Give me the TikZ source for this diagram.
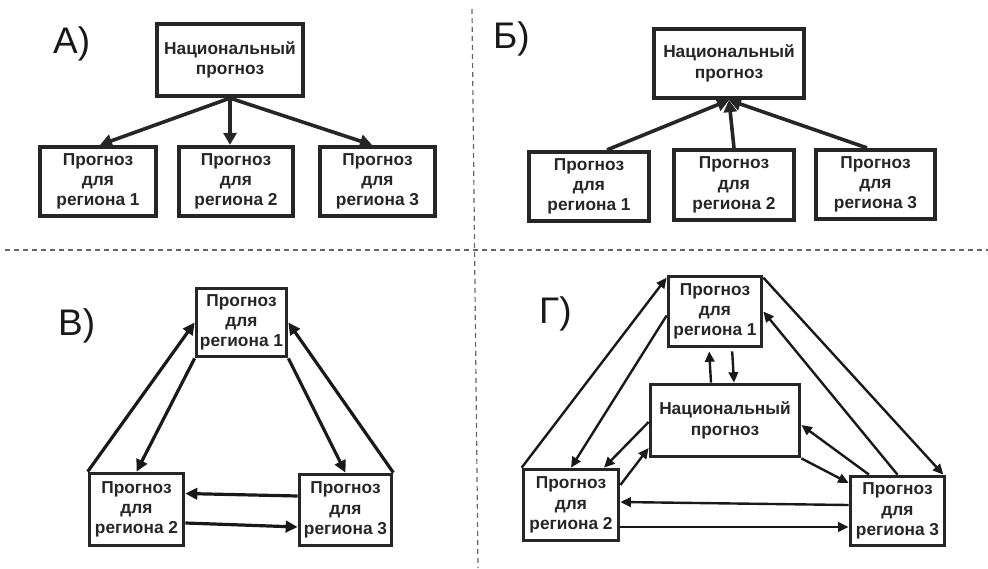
\documentclass[tikz,border=0pt]{standalone}
\usepackage{fontspec}
\setmainfont{Liberation Sans}
\usetikzlibrary{arrows.meta}
\begin{document}
\begin{tikzpicture}[x=1pt,y=-1pt,
  box/.style={draw=black!85, line width=4.2pt, fill=white, text=black!85,
    font=\bfseries\fontsize{17.3}{20.3}\selectfont, align=center, inner sep=0pt},
  thinbox/.style={box, line width=3.7pt},
  panel/.style={text=black!90, font=\fontsize{37}{40}\selectfont, anchor=base west, inner sep=0pt},
  arA/.style={draw=black!85, line width=3.6pt, -{Triangle[length=12pt,width=13pt]}},
  arB/.style={draw=black!90, line width=3.2pt, -{Triangle[length=12pt,width=11.5pt]}},
  arC/.style={draw=black!90, line width=2.4pt, -{Triangle[length=10.5pt,width=9.5pt]}},
  divider/.style={draw=black!60, line width=1.2pt, dash pattern=on 5pt off 4pt}
]
\useasboundingbox (0,0) rectangle (988,568);

% dividing lines between the four schemes
\coordinate (hl) at (5,250);
\coordinate (hr) at (988,250);
\coordinate (vt) at (472,9);
\coordinate (vb) at (478,568);
\draw[divider] (hl) -- (hr);
\draw[divider] (vt) -- (vb);

% ---------- A) top-down ----------
\node[panel] (la) at (53,53) {А)};
\node[box, minimum width=146pt, minimum height=72pt] (an) at (230,60) {Национальный\\прогноз};
\node[box, minimum width=116pt, minimum height=69pt] (a1) at (98,181.5) {Прогноз\\для\\региона 1};
\node[box, minimum width=114pt, minimum height=69pt] (a2) at (236,181.5) {Прогноз\\для\\региона 2};
\node[box, minimum width=115pt, minimum height=69pt] (a3) at (377.5,181.5) {Прогноз\\для\\региона 3};
\draw[arA] (an.south) -- ([xshift=2pt]a1.north);
\draw[arA] (an.south) -- (an.south |- a2.north);
\draw[arA] (an.south) -- ([xshift=-5.5pt]a3.north);

% ---------- Б) bottom-up ----------
\node[panel] (lb) at (493,48) {Б)};
\node[box, minimum width=150pt, minimum height=69pt] (bn) at (729,63.5) {Национальный\\прогноз};
\node[box, minimum width=120pt, minimum height=69pt] (b1) at (589,186.5) {Прогноз\\для\\региона 1};
\node[box, minimum width=120pt, minimum height=70pt] (b2) at (734,185) {Прогноз\\для\\региона 2};
\node[box, minimum width=119pt, minimum height=69pt] (b3) at (875.5,184.5) {Прогноз\\для\\региона 3};
\draw[arA] ([xshift=18pt]b1.north) -- (bn.south);
\draw[arA] (b2.north) -- (bn.south);
\draw[arA] ([xshift=-8.5pt]b3.north) -- (bn.south);

% ---------- В) regions only ----------
\node[panel] (lv) at (58,335) {В)};
\node[thinbox, minimum width=90pt, minimum height=68pt] (v1) at (241.5,322.5) {Прогноз\\для\\региона 1};
\node[thinbox, minimum width=94pt, minimum height=72pt] (v2) at (136.5,509.5) {Прогноз\\для\\региона 2};
\node[thinbox, minimum width=92pt, minimum height=71pt] (v3) at (345.5,510) {Прогноз\\для\\региона 3};
\draw[arB] (v2.north west) -- (v1.west);
\draw[arB] (v1.south west) -- (v2.north);
\draw[arB] (v1.south east) -- (v3.north);
\draw[arB] (v3.north east) -- (v1.east);
\draw[arB] ([yshift=14pt]v3.west) -- ([yshift=16pt]v2.east);
\draw[arB] ([yshift=-13.5pt]v2.east) -- ([yshift=-17pt]v3.west);

% ---------- Г) regions and the national forecast ----------
\node[panel] (lg) at (539,323) {Г)};
\node[thinbox, minimum width=93pt, minimum height=70pt] (g1) at (715,311.5) {Прогноз\\для\\региона 1};
\node[thinbox, minimum width=149pt, minimum height=72pt] (gn) at (725,420.5) {Национальный\\прогноз};
\node[thinbox, minimum width=95pt, minimum height=71pt] (g2) at (571,505) {Прогноз\\для\\региона 2};
\node[thinbox, minimum width=94pt, minimum height=69pt] (g3) at (897.5,511) {Прогноз\\для\\региона 3};
\draw[arC] (g2.north west) -- ([yshift=-3pt]g1.north west);
\draw[arC] ([yshift=-4pt]g1.west) -- (g2.north);
\draw[arC] ([yshift=-3pt]g1.north east) -- ([xshift=-3pt]g3.north east);
\draw[arC] (g3.north) -- (g1.east);
\draw[arC, shorten >=3pt] ([xshift=-14pt]gn.north) -- ([xshift=-6pt]g1.south);
\draw[arC, shorten <=3pt] ([xshift=17pt]g1.south) -- ([xshift=9pt]gn.north);
\draw[arC] ([yshift=-1.5pt]gn.west) -- ([xshift=33pt]g2.north);
\draw[arC] ([yshift=20pt]g2.east) -- ([yshift=-27.5pt]gn.west);
\draw[arC] ([xshift=-28.5pt]g3.north) -- ([yshift=-4.5pt]gn.east);
\draw[arC] (gn.south east) -- ([yshift=28pt]g3.west);
\draw[arC] ([yshift=6pt]g3.west) -- ([yshift=3pt]g2.east);
\draw[arC] ([yshift=-22pt]g2.east) -- ([yshift=-16pt]g3.west);
\end{tikzpicture}
\end{document}
